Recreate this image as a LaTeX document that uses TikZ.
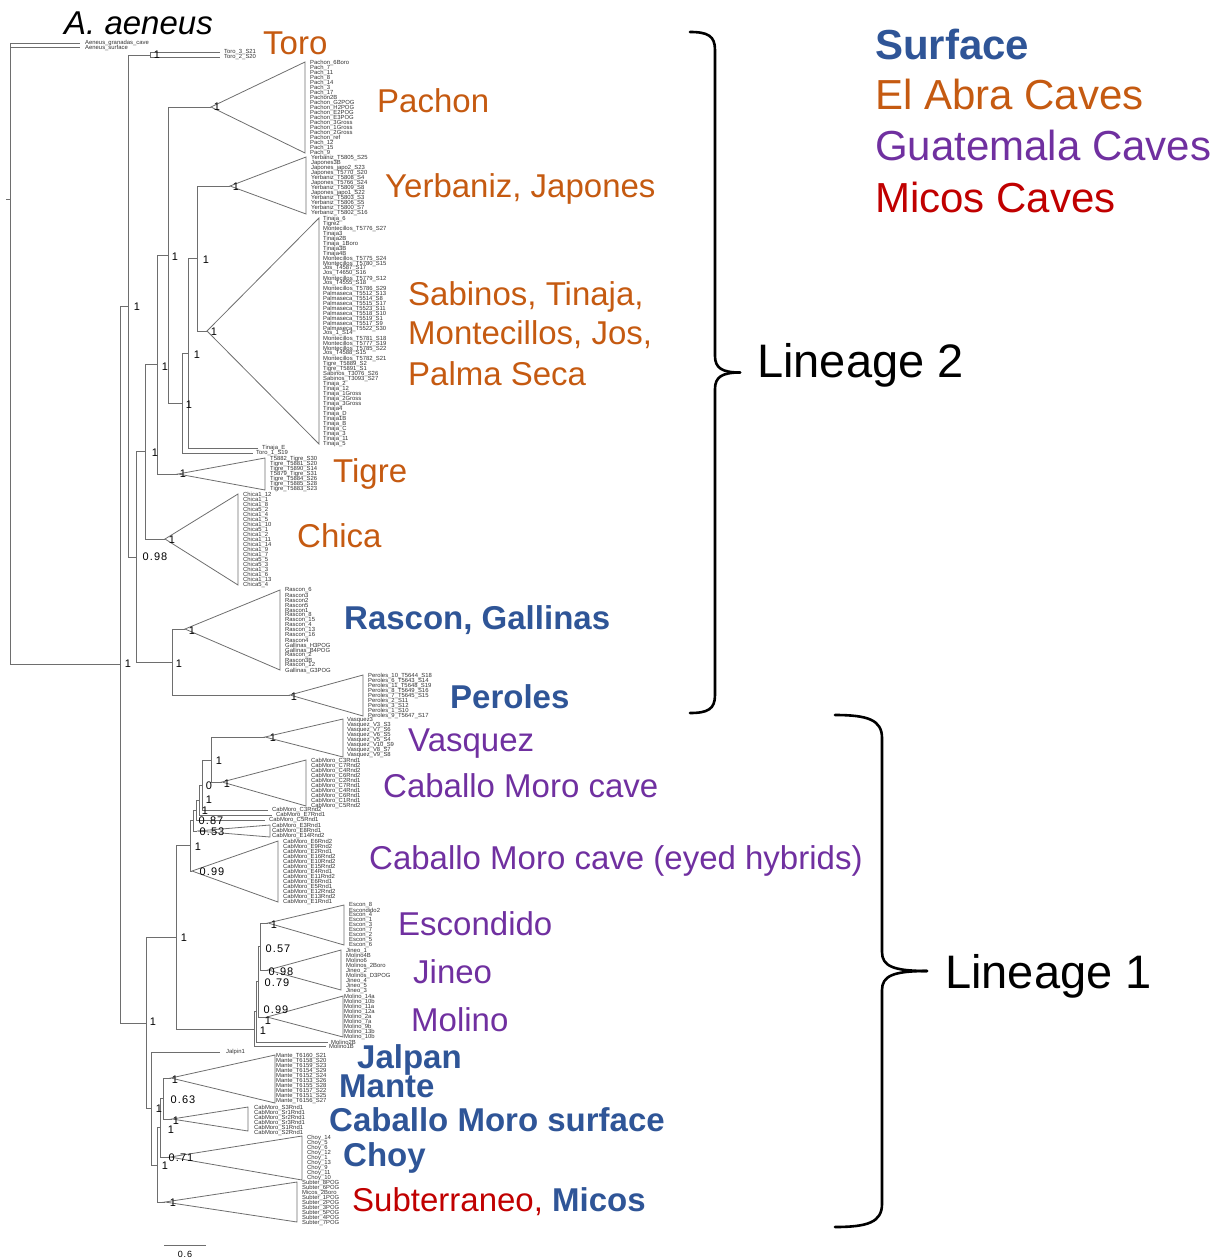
\documentclass[tikz,border=0pt]{standalone}
\usepackage{fontspec}
\setmainfont{Liberation Sans}
\newfontfamily\supfont[LetterSpace=10]{Liberation Sans}
\definecolor{cabra}{HTML}{C55A11}
\definecolor{csurf}{HTML}{2F5597}
\definecolor{cguat}{HTML}{7030A0}
\definecolor{cmicos}{HTML}{C00000}
\definecolor{tline}{HTML}{6E6E6E}
\newcommand{\leafs}[5]{\foreach \t [count=\i from 0] in {#5} {\node[leaf] (#1\i) at (#2,#3+#4*\i) {\t};}}
\newcommand{\clade}[6]{\coordinate (#1) at (#2,#3); \draw[tri] (#1) -- (#4,#5) -- (#4,#6) -- cycle;}
\begin{document}
\begin{tikzpicture}[x=1pt,y=-1pt,
  br/.style={draw=tline, line width=0.8pt},
  tri/.style={draw=tline, line width=0.8pt, line join=miter},
  leaf/.style={font=\fontsize{5.9}{5}\selectfont, inner sep=0pt, anchor=west, text=black!80},
  sup/.style={font=\supfont\fontsize{11}{11}\selectfont, inner sep=0pt, text=black},
  grp/.style={font=\fontsize{33}{33}\selectfont, inner sep=0pt, anchor=base west},
  abra/.style={grp, text=cabra},
  guat/.style={grp, text=cguat},
  surf/.style={grp, text=csurf, font=\fontsize{33}{33}\selectfont\bfseries},
  leg/.style={font=\fontsize{42}{42}\selectfont, inner sep=0pt, anchor=base west},
  lin/.style={font=\fontsize{47}{47}\selectfont, inner sep=0pt, anchor=base west},
  brc/.style={draw=black, line width=2.6pt, line cap=round, line join=round}
]
\useasboundingbox (0,0) rectangle (1225,1260);

% ---------------- tree nodes (lineage 2 and root) ----------------
\coordinate (root) at (10,199.4);
\coordinate (r1) at (10,355.7);
\coordinate (gran) at (80,43);
\coordinate (surfl) at (80,47);
\coordinate (ing) at (120,664.4);
\coordinate (A) at (128,306);
\coordinate (J) at (146,1022.9);
\coordinate (T0) at (150,55);
\coordinate (t3) at (220,52.5);
\coordinate (t2) at (220,57.5);
\coordinate (B) at (136,556.9);
\coordinate (C) at (145,451.75);
\coordinate (I) at (172,662);
\coordinate (D) at (157,364.5);
\coordinate (E) at (168,255);
\coordinate (F) at (182,403.1);
\coordinate (G) at (188,353.25);
\coordinate (H) at (197,258.5);
\coordinate (tinE) at (258,448);
\coordinate (toro1) at (253,453);
\coordinate (rootstub) at (6,199.4);

\clade{pach}{211}{107}{305}{62}{153}
\clade{yerb}{230}{186}{306}{157}{214}
\clade{sab}{207}{331}{319}{218}{444}
\clade{tig}{178}{474}{265}{458}{490}
\clade{chi}{165}{539}{238}{494}{585}
\clade{ras}{185}{629}{280}{590}{670}
\clade{per}{290}{695}{363}{675}{716}

\draw[br] (root) -- (rootstub);
\draw[br] (root) |- (gran);
\draw[br] (root) -- (r1);
\draw[br] (r1) |- (surfl);
\draw[br] (r1) |- (ing);
\draw[br] (ing) |- (A);
\draw[br] (ing) |- (J);
\draw[br] (A) |- (T0);
\draw[br] (A) |- (B);
\draw[br] (T0) |- (t3);
\draw[br] (T0) |- (t2);
\draw[br] (B) |- (C);
\draw[br] (B) |- (I);
\draw[br] (C) |- (D);
\draw[br] (C) |- (chi);
\draw[br] (D) |- (E);
\draw[br] (D) |- (tig);
\draw[br] (E) |- (pach);
\draw[br] (E) |- (F);
\draw[br] (F) |- (G);
\draw[br] (F) |- (toro1);
\draw[br] (G) |- (H);
\draw[br] (G) |- (tinE);
\draw[br] (H) |- (yerb);
\draw[br] (H) |- (sab);
\draw[br] (I) |- (ras);
\draw[br] (I) |- (per);

% ---------------- lineage 1 ----------------
\coordinate (K) at (176,937.4);
\coordinate (Y) at (151,1108.4);
\coordinate (L) at (190,845.75);
\coordinate (Tn) at (254,1028.9);
\coordinate (P) at (193,820.5);
\coordinate (Q) at (196,810);
\coordinate (R) at (199,800);
\coordinate (S) at (202,785);
\coordinate (N) at (211,760);
\coordinate (c5) at (265,820);
\coordinate (e7) at (272,815);
\coordinate (c3) at (268,810);
\coordinate (U) at (256,1011.75);
\coordinate (X) at (258,981.5);
\coordinate (W) at (260,946.5);
\coordinate (m1b) at (326,1046);
\coordinate (m2b) at (328,1042);
\coordinate (jal) at (220,1052);
\coordinate (Z) at (157,1164.9);
\coordinate (AA) at (160,1127.75);
\coordinate (BB) at (163,1098.5);

\clade{eyed}{192}{871}{278}{841}{902}
\clade{etri}{197}{831}{270}{825}{837}
\clade{vas}{265}{737}{343}{719}{757}
\clade{cmc}{222}{782}{306}{760}{806}
\clade{mol}{267}{1017}{343}{996}{1037}
\clade{esc}{268}{923}{344}{905}{945}
\clade{jin}{268}{970}{341}{950}{990}
\clade{sub}{165}{1202}{297}{1182}{1222}
\clade{choy}{170}{1157}{302}{1136}{1180}
\clade{man}{171}{1078}{275}{1055}{1103}
\clade{cms}{172}{1119}{248}{1107}{1131}

\draw[br] (J) |- (K);
\draw[br] (J) |- (Y);
\draw[br] (K) |- (L);
\draw[br] (K) |- (Tn);
\draw[br] (L) |- (P);
\draw[br] (L) |- (eyed);
\draw[br] (P) |- (Q);
\draw[br] (P) |- (etri);
\draw[br] (Q) |- (R);
\draw[br] (Q) |- (c5);
\draw[br] (R) |- (S);
\draw[br] (R) |- (e7);
\draw[br] (S) |- (N);
\draw[br] (S) |- (c3);
\draw[br] (N) |- (vas);
\draw[br] (N) |- (cmc);
\draw[br] (Tn) |- (U);
\draw[br] (Tn) |- (m1b);
\draw[br] (U) |- (X);
\draw[br] (U) |- (m2b);
\draw[br] (X) |- (W);
\draw[br] (X) |- (mol);
\draw[br] (W) |- (esc);
\draw[br] (W) |- (jin);
\draw[br] (Y) |- (jal);
\draw[br] (Y) |- (Z);
\draw[br] (Z) |- (AA);
\draw[br] (Z) |- (sub);
\draw[br] (AA) |- (BB);
\draw[br] (AA) |- (choy);
\draw[br] (BB) |- (man);
\draw[br] (BB) |- (cms);

% scale bar
\coordinate (sb1) at (164,1245);
\coordinate (sb2) at (206,1245);
\draw[br] (sb1) -- (sb2);
\node[font=\supfont\fontsize{9}{9}\selectfont, inner sep=0pt] (sbl) at (185,1254) {0.6};

% ---------------- single leaf labels ----------------
\node[leaf] (lgran) at (85,43) {Aeneus\_granadas\_cave};
\node[leaf] (lsurf) at (85,47.5) {Aeneus\_surface};
\node[leaf] (lt3) at (224,52.5) {Toro\_3\_S21};
\node[leaf] (lt2) at (224,57.5) {Toro\_2\_S20};
\node[leaf] (ltinE) at (262,448) {Tinaja\_E};
\node[leaf] (ltoro1) at (256,453.5) {Toro\_1\_S19};
\node[leaf] (lc3) at (272,810) {CabMoro\_C3Rnd2};
\node[leaf] (le7) at (276,815) {CabMoro\_E7Rnd1};
\node[leaf] (lc5) at (269,820) {CabMoro\_C5Rnd1};
\node[leaf] (lm2b) at (331,1042) {Molino2B};
\node[leaf] (lm1b) at (329,1046.5) {Molino1B};
\node[leaf] (ljal) at (226,1052) {Jalpin1};

% ---------------- leaf label lists ----------------
\leafs{pa}{310}{62.5}{5}{Pachon\_6Boro, Pach\_7, Pach\_11, Pach\_8, Pach\_14, Pach\_3, Pach\_17, Pachon2B, Pachon\_G2POG, Pachon\_H2POG, Pachon\_E2POG, Pachon\_E3POG, Pachon\_3Gross, Pachon\_1Gross, Pachon\_2Gross, Pachon\_ref, Pach\_12, Pach\_15, Pach\_9}
\leafs{ye}{311}{158}{5}{Yerbaniz\_T5805\_S25, Japones3B, Japones\_japo2\_S23, Japones\_T5770\_S20, Yerbaniz\_T5808\_S4, Japones\_T5766\_S24, Yerbaniz\_T5809\_S8, Japones\_japo1\_S22, Yerbaniz\_T5803\_S3, Yerbaniz\_T5806\_S5, Yerbaniz\_T5800\_S7, Yerbaniz\_T5802\_S16}
\leafs{sa}{323}{218.5}{5}{Tinaja\_6, Tigre2, Montecillos\_T5776\_S27, Tinaja3, Tinaja2B, Tinaja\_1Boro, Tinaja3B, Tinaja4B, Montecillos\_T5775\_S24, Montecillos\_T5780\_S15, Jos\_T4587\_S17, Jos\_T4650\_S16, Montecillos\_T5779\_S12, Jos\_T4555\_S18, Montecillos\_T5786\_S29, Palmaseca\_T5512\_S13, Palmaseca\_T5514\_S8, Palmaseca\_T5515\_S17, Palmaseca\_T5523\_S11, Palmaseca\_T5518\_S10, Palmaseca\_T5519\_S1, Palmaseca\_T5517\_S9, Palmaseca\_T5522\_S30, Jos\_1\_S14, Montecillos\_T5781\_S18, Montecillos\_T5777\_S19, Montecillos\_T5785\_S22, Jos\_T4588\_S15, Montecillos\_T5782\_S21, Tigre\_T5889\_S2, Tigre\_T5891\_S1, Sabinos\_T3076\_S26, Sabinos\_T3093\_S27, Tinaja\_2, Tinaja\_12, Tinaja\_1Gross, Tinaja\_2Gross, Tinaja\_3Gross, Tinaja4, Tinaja\_D, Tinaja1B, Tinaja\_B, Tinaja\_C, Tinaja\_3, Tinaja\_11, Tinaja\_5}
\leafs{ti}{270}{459}{5}{T5882\_Tigre\_S30, Tigre\_T5881\_S20, Tigre\_T5890\_S14, T5879\_Tigre\_S31, Tigre\_T5884\_S26, Tigre\_T5885\_S28, Tigre\_T5883\_S23}
\leafs{ch}{243}{494.5}{5}{Chica1\_12, Chica1\_1, Chica1\_8, Chica5\_2, Chica1\_4, Chica1\_5, Chica1\_10, Chica5\_1, Chica1\_2, Chica1\_11, Chica1\_14, Chica1\_9, Chica1\_7, Chica5\_5, Chica5\_3, Chica1\_3, Chica1\_6, Chica1\_13, Chica5\_4}
\leafs{ra}{285}{590.5}{5}{Rascon\_6, Rascon3, Rascon2, Rascon5, Rascon1, Rascon\_8, Rascon\_15, Rascon\_4, Rascon\_13, Rascon\_16, Rascon4, Gallinas\_H3POG, Gallinas\_B4POG, Rascon\_2, Rascon3B, Rascon\_12, Gallinas\_G3POG}
\leafs{pe}{368}{675.5}{5}{Peroles\_10\_T5644\_S18, Peroles\_6\_T5643\_S14, Peroles\_11\_T5648\_S19, Peroles\_8\_T5649\_S16, Peroles\_7\_T5645\_S15, Peroles\_2\_S11, Peroles\_3\_S12, Peroles\_1\_S10, Peroles\_9\_T5647\_S17}
\leafs{va}{347}{720}{5}{Vasquez3, Vasquez\_V3\_S3, Vasquez\_V7\_S6, Vasquez\_V6\_S5, Vasquez\_V5\_S4, Vasquez\_V10\_S9, Vasquez\_V8\_S7, Vasquez\_V9\_S8}
\leafs{cc}{311}{760.5}{5}{CabMoro\_C3Rnd1, CabMoro\_C7Rnd2, CabMoro\_C4Rnd2, CabMoro\_C6Rnd2, CabMoro\_C2Rnd1, CabMoro\_C7Rnd1, CabMoro\_C4Rnd1, CabMoro\_C6Rnd1, CabMoro\_C1Rnd1, CabMoro\_C5Rnd2}
\leafs{et}{272}{825.5}{5}{CabMoro\_E3Rnd1, CabMoro\_E8Rnd1, CabMoro\_E14Rnd2}
\leafs{ey}{283}{841.5}{5}{CabMoro\_E6Rnd2, CabMoro\_E9Rnd2, CabMoro\_E2Rnd1, CabMoro\_E16Rnd2, CabMoro\_E10Rnd2, CabMoro\_E15Rnd2, CabMoro\_E4Rnd1, CabMoro\_E11Rnd2, CabMoro\_E6Rnd1, CabMoro\_E5Rnd1, CabMoro\_E12Rnd2, CabMoro\_E13Rnd2, CabMoro\_E1Rnd1}
\leafs{es}{349}{905.5}{5}{Escon\_8, Escondido2, Escon\_4, Escon\_1, Escon\_3, Escon\_7, Escon\_2, Escon\_5, Escon\_6}
\leafs{ji}{346}{950.5}{5}{Jineo\_1, Molino4B, Molino6, Molinos\_2Boro, Jineo\_2, Molinos\_D3POG, Jineo\_4, Jineo\_5, Jineo\_3}
\leafs{mo}{344}{996.5}{5}{Molino\_14a, Molino\_10b, Molino\_11a, Molino\_12a, Molino\_2a, Molino\_7a, Molino\_9b, Molino\_13b, Molino\_10b}
\leafs{ma}{276}{1056}{5}{Mante\_T6160\_S21, Mante\_T6158\_S20, Mante\_T6159\_S23, Mante\_T6154\_S29, Mante\_T6152\_S24, Mante\_T6153\_S26, Mante\_T6155\_S28, Mante\_T6157\_S22, Mante\_T6151\_S25, Mante\_T6156\_S27}
\leafs{cs}{254}{1107.5}{5}{CabMoro\_S3Rnd1, CabMoro\_Sr1Rnd1, CabMoro\_Sr2Rnd1, CabMoro\_Sr3Rnd1, CabMoro\_S1Rnd1, CabMoro\_S2Rnd1}
\leafs{cy}{307}{1137.5}{5}{Choy\_14, Choy\_5, Choy\_6, Choy\_12, Choy\_1, Choy\_13, Choy\_9, Choy\_11, Choy\_10}
\leafs{su}{302}{1182.5}{5}{Subter\_8POG, Subter\_6POG, Micos\_2Boro, Subter\_1POG, Subter\_2POG, Subter\_3POG, Subter\_5POG, Subter\_4POG, Subter\_7POG}

% ---------------- support values ----------------
\foreach \x/\y/\s [count=\k] in {157/55/1, 217/107/1, 236/187/1, 214/332/1, 175/257/1, 206/260/1, 137/307/1, 197/355/1, 165/367/1, 189/405/1, 155/453/1, 183/474/1, 172/540/1, 155/557/0.98, 192/631/1, 128/664/1, 179/664/1, 294/697/1, 273/738/1, 219/761/1, 209/786/0, 227/784/1, 209/800/1, 205/811/1, 211/821/0.87, 212/832/0.53, 198/847/1, 212/872/0.99, 274/925/1, 184/938/1, 278/949/0.57, 281/972/0.98, 277/983/0.79, 276/1010/0.99, 268/1021/1, 153/1022/1, 263/1031/1, 175/1080/1, 183/1100/0.63, 159/1109/1, 176/1121/1, 171/1130/1, 181/1158/0.71, 165/1166/1, 173/1203/1}
  {\node[sup] (s\k) at (\x,\y) {\s};}

% ---------------- group labels ----------------
\node[font=\fontsize{33}{33}\selectfont\itshape, inner sep=0pt, anchor=base west] (aen) at (64,35) {A. aeneus};
\node[abra] (gToro) at (263,55) {Toro};
\node[abra] (gPach) at (377,113) {Pachon};
\node[abra] (gYerb) at (385,197) {Yerbaniz, Japones};
\node[abra] (gSab1) at (408,305) {Sabinos, Tinaja,};
\node[abra] (gSab2) at (408,344) {Montecillos, Jos,};
\node[abra] (gSab3) at (408,385) {Palma Seca};
\node[abra] (gTig) at (333,482) {Tigre};
\node[abra] (gChi) at (297,547) {Chica};
\node[surf] (gRas) at (344,629) {Rascon, Gallinas};
\node[surf] (gPer) at (450,708) {Peroles};
\node[guat] (gVas) at (408,751) {Vasquez};
\node[guat] (gCmc) at (383,797) {Caballo Moro cave};
\node[guat] (gEye) at (369,869) {Caballo Moro cave (eyed hybrids)};
\node[guat] (gEsc) at (398,935) {Escondido};
\node[guat] (gJin) at (413,983) {Jineo};
\node[guat] (gMol) at (411,1031) {Molino};
\node[surf] (gJal) at (357,1068) {Jalpan};
\node[surf] (gMan) at (339,1097) {Mante};
\node[surf] (gCms) at (329,1131) {Caballo Moro surface};
\node[surf] (gChoy) at (343,1166) {Choy};
\node[grp, text=cmicos] (gSub) at (352,1211) {Subterraneo, {\bfseries\color{csurf}Micos}};

% ---------------- legend ----------------
\node[leg, text=csurf, font=\fontsize{42}{42}\selectfont\bfseries] (legS) at (875,60) {Surface};
\node[leg, text=cabra] (legA) at (875,110) {El Abra Caves};
\node[leg, text=cguat] (legG) at (875,161) {Guatemala Caves};
\node[leg, text=cmicos] (legM) at (875,212) {Micos Caves};

% ---------------- braces ----------------
\draw[brc] (690,32) .. controls (708,32) and (715,36) .. (715,50) -- (715,356) .. controls (715,368) and (722,372.5) .. (740,372.5);
\draw[brc] (740,372.5) .. controls (722,372.5) and (715,377) .. (715,389) -- (715,695) .. controls (715,709) and (708,713) .. (690,713);
\node[lin] (lin2) at (757,377) {Lineage 2};
\draw[brc] (835,715) .. controls (868,715) and (882,720) .. (882,738) -- (882,952) .. controls (882,966) and (893,971) .. (927,971);
\draw[brc] (927,971) .. controls (893,971) and (882,976) .. (882,990) -- (882,1204) .. controls (882,1222) and (868,1227) .. (835,1227);
\node[lin] (lin1) at (945,988) {Lineage 1};
\end{tikzpicture}
\end{document}
